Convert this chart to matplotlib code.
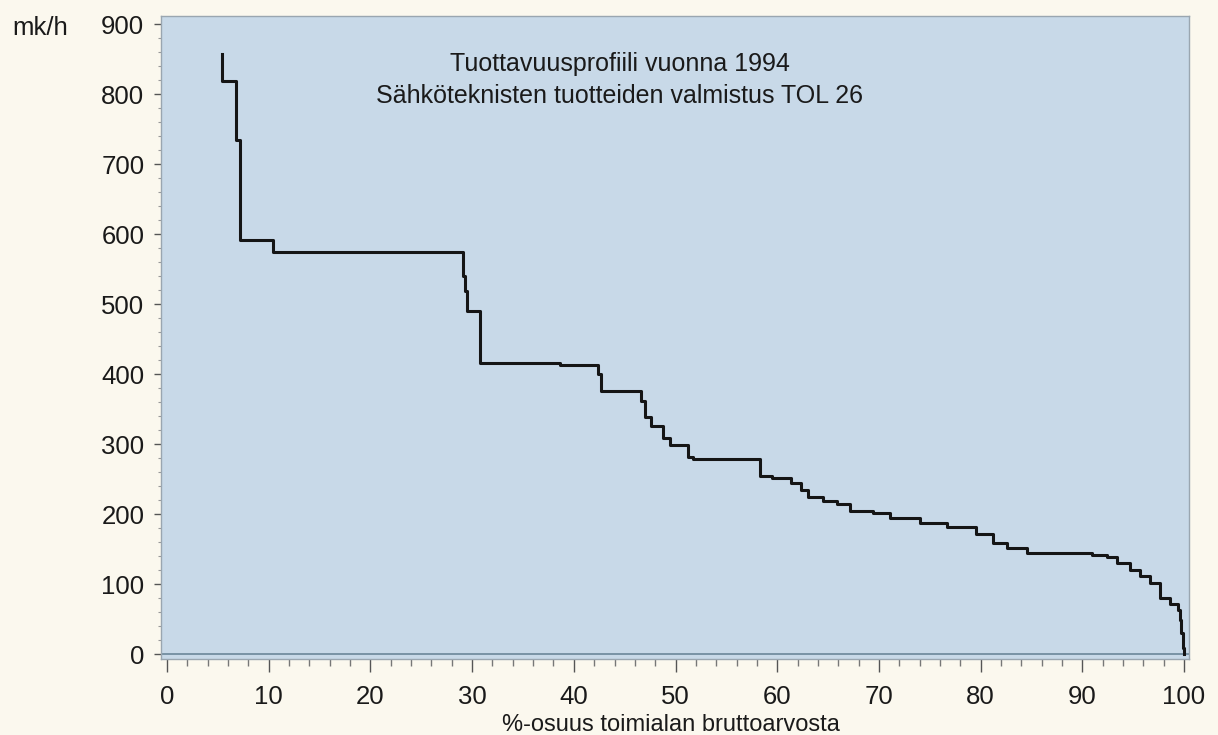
import matplotlib.pyplot as plt
from matplotlib.ticker import MultipleLocator

# cumulative share of gross value (%) where each productivity level starts
share_start = [5.4, 5.45, 6.8, 7.2, 10.4, 29.1, 29.3, 29.5, 30.8, 38.6,
               42.4, 42.7, 46.6, 47.0, 47.6, 48.8, 49.5, 51.2, 51.7, 58.3,
               59.5, 61.4, 62.3, 63.0, 64.5, 65.9, 67.2, 69.4, 71.1, 72.0,
               74.0, 76.7, 79.5, 81.2, 82.6, 84.6, 91.0, 92.4, 93.4, 94.7,
               95.7, 96.7, 97.6, 98.6, 99.4, 99.6, 99.75, 99.85]
# labour productivity, mk/h
productivity = [857, 818, 735, 591, 575, 540, 518, 490, 416, 413,
                400, 376, 362, 338, 326, 309, 298, 281, 278, 255,
                252, 245, 234, 225, 219, 215, 204, 201, 195, 194,
                187, 181, 172, 158, 151, 145, 141, 138, 130, 120,
                112, 101, 80, 72, 63, 48, 30, 8]
share_end = 100.0

x_ticks = [0, 10, 20, 30, 40, 50, 60, 70, 80, 90, 100]
y_ticks = [0, 100, 200, 300, 400, 500, 600, 700, 800, 900]

plt.rcParams['font.family'] = ['Liberation Sans', 'DejaVu Sans']

fig = plt.figure(figsize=(12.18, 7.35), dpi=100)
fig.patch.set_facecolor('#fbf8ee')
ax = fig.add_axes([0.1322, 0.1034, 0.8440, 0.8748])
ax.set_facecolor('#c8d9e8')

# zero line
ax.axhline(0, color='#6b8799', lw=1.2, zorder=1)

xs = share_start + [share_end, share_end]
ys = productivity + [productivity[-1], 0]
ax.step(xs, ys, where='post', color='#151515', lw=2.2, zorder=3)

ax.set_xlim(-0.59, 100.49)
ax.set_ylim(-7.1, 911.4)
ax.set_xticks(x_ticks)
ax.set_yticks(y_ticks)
ax.xaxis.set_minor_locator(MultipleLocator(2))
ax.yaxis.set_minor_locator(MultipleLocator(20))

ax.tick_params(axis='both', which='major', labelsize=18.5, colors='#555555',
               labelcolor='#1a1a1a')
ax.tick_params(axis='x', which='major', length=9, width=1, pad=10)
ax.tick_params(axis='x', which='minor', length=5, width=1, colors='#777777')
ax.tick_params(axis='y', which='major', length=5, width=1, pad=7)
ax.tick_params(axis='y', which='minor', length=2.5, width=0.8, colors='#999999')

for side in ['left', 'right', 'top', 'bottom']:
    ax.spines[side].set_color('#9aa6b0')
    ax.spines[side].set_linewidth(1)

ax.text(44.5, 820, 'Tuottavuusprofiili vuonna 1994\nSähköteknisten tuotteiden valmistus TOL 26',
        ha='center', va='center', fontsize=18, color='#1a1a1a', linespacing=1.4)

# axis titles placed in figure coordinates
fig.text(0.551, 0.005, '%-osuus toimialan bruttoarvosta', fontsize=17,
         color='#1a1a1a', ha='center', va='baseline')
fig.text(0.010, 0.962, 'mk/h', fontsize=18.5, color='#1a1a1a', va='center', ha='left')

fig.savefig('out.png', dpi=100, facecolor=fig.get_facecolor())
